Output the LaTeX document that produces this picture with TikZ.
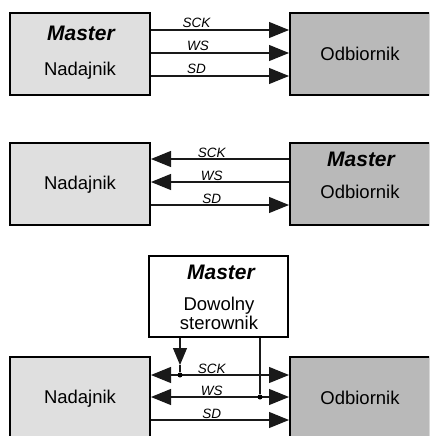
\documentclass[tikz,border=0pt]{standalone}
\usepackage{fontspec}
\setmainfont{Liberation Sans}
\usetikzlibrary{arrows.meta}

\begin{document}
\begin{tikzpicture}[
		x=1pt, y=-1pt,
		blk/.style = {
			shape=rectangle, draw, line width=2pt,
			minimum width=140pt, minimum height=82pt, inner sep=0pt},
		nad/.style = {blk, fill=gray!25},
		odb/.style = {blk, fill=gray!55},
		ster/.style = {blk, fill=white, minimum width=139pt, minimum height=81pt},
		txt/.style = {anchor=base, inner sep=0pt, font=\fontsize{18.5}{22}\selectfont},
		mst/.style = {txt, font=\fontsize{21}{22}\selectfont\bfseries\itshape},
		sig/.style = {anchor=base, inner sep=0pt, yshift=2pt,
			font=\fontsize{13.5}{14}\selectfont\itshape},
		wire/.style = {line width=1.1pt, draw=black!90},
		arr/.style = {-{Triangle[length=20pt,width=16pt]}},
		arrs/.style = {{Triangle[length=20pt,width=16pt]}-{Triangle[length=20pt,width=16pt]}},
		junc/.style = {circle, fill=black, inner sep=0pt, minimum size=5pt}]

	\useasboundingbox (0,0) rectangle (429,436);
	\clip (0,0) rectangle (429,436);
	\fill[white] (0,0) rectangle (429,436);

	% Master = nadajnik
	\node[nad] (n1) at (80,54) {};
	\node[odb] (o1) at (360,54) {};
	\node[mst] (m1) at (81,40.5) {Master};
	\node[txt] (t1) at (80,75) {Nadajnik};
	\node[txt] (r1) at (360,60.5) {Odbiornik};

	\draw[wire,arr] ([yshift=24pt]n1.east) -- ([yshift=24pt]o1.west)
		node[sig,pos=.33] (s1) {SCK};
	\draw[wire,arr] ([yshift=1pt]n1.east) -- ([yshift=1pt]o1.west)
		node[sig,pos=.34] (w1) {WS};
	\draw[wire,arr] ([yshift=-22pt]n1.east) -- ([yshift=-22pt]o1.west)
		node[sig,pos=.33] (d1) {SD};

	% Master = odbiornik
	\node[nad] (n2) at (80,184) {};
	\node[odb] (o2) at (360,184) {};
	\node[txt] (t2) at (80,189) {Nadajnik};
	\node[mst] (m2) at (361,166.5) {Master};
	\node[txt] (r2) at (360,198) {Odbiornik};

	\draw[wire,arr] ([yshift=25pt]o2.west) -- ([yshift=25pt]n2.east)
		node[sig,pos=.56] (s2) {SCK};
	\draw[wire,arr] ([yshift=2pt]o2.west) -- ([yshift=2pt]n2.east)
		node[sig,pos=.56] (w2) {WS};
	\draw[wire,arr] ([yshift=-21pt]n2.east) -- ([yshift=-21pt]o2.west)
		node[sig,pos=.44] (d2) {SD};

	% Master = sterownik
	\node[ster] (m3) at (218.5,296.5) {};
	\node[mst] (m3a) at (221,279) {Master};
	\node[txt] (m3b) at (219,310) {Dowolny};
	\node[txt] (m3c) at (219,329.5) {sterownik};

	\node[nad] (n3) at (80,398) {};
	\node[odb] (o3) at (360,398) {};
	\node[txt] (t3) at (80,403) {Nadajnik};
	\node[txt] (r3) at (360,404) {Odbiornik};

	\draw[wire,arrs] ([yshift=23pt]n3.east) coordinate (k3) -- ([yshift=23pt]o3.west)
		node[sig,pos=.44] (s3) {SCK};
	\draw[wire,arrs] ([yshift=1pt]n3.east) coordinate (q3) -- ([yshift=1pt]o3.west)
		node[sig,pos=.44] (w3) {WS};
	\draw[wire,arr] ([yshift=-22pt]n3.east) -- ([yshift=-22pt]o3.west)
		node[sig,pos=.44] (d3) {SD};

	\coordinate (c1) at ([xshift=-38.5pt]m3.south);
	\coordinate (c2) at ([xshift=41.5pt]m3.south);
	\coordinate (a1) at ([yshift=-27pt]c1);
	\node[junc] (j1) at (c1 |- k3) {};
	\node[junc] (j2) at (c2 |- q3) {};
	\draw[wire,-{Triangle[length=17pt,width=14pt]}] (c1) -- (a1);
	\draw[wire] (a1) -- (j1);
	\draw[wire] (c2) -- (j2);
\end{tikzpicture}
\end{document}
